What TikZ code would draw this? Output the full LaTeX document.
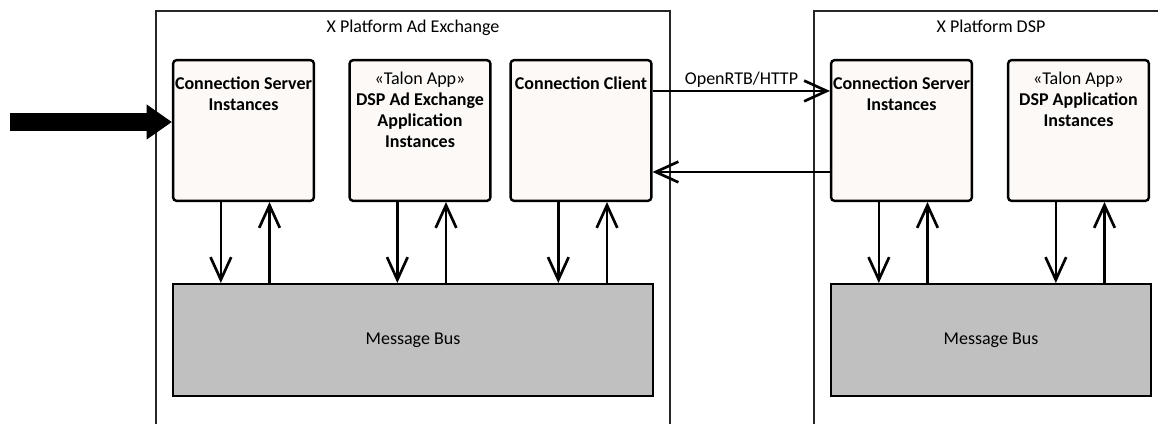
\documentclass[tikz,border=0pt]{standalone}
\usepackage{fontspec}
\setmainfont{Carlito}
\usepackage{xcolor}
\usetikzlibrary{arrows.meta,positioning,calc}

\definecolor{compfill}{HTML}{FCF9F6}
\definecolor{busfill}{HTML}{C0C0C0}

\tikzset{
  frame/.style={draw=black!85,line width=0.9pt},
  comp/.style={draw,line width=1.8pt,rounded corners=2.5pt,fill=compfill,
    minimum width=105.5pt,minimum height=105.5pt},
  bus/.style={draw,line width=1.8pt,fill=busfill,minimum height=83.7pt},
  lbl/.style={align=center,inner sep=0pt,anchor=base},
  flow/.style={line width=2pt,-{Straight Barb[length=17pt,width=15.5pt]}},
  bigarrow/.style={line width=14pt,-{Triangle[length=19pt,width=25pt]}}
}

\begin{document}
\begin{tikzpicture}[x=0.75pt,y=-0.75pt,font=\fontsize{13.5pt}{15.75pt}\selectfont]
            \useasboundingbox (0,0) rectangle (1158,424);
            \clip (0,0) rectangle (1158,424);

            % Platforms
            \draw[frame] (156,11) rectangle (670,440);
            \draw[frame] (814,11) rectangle (1168,440);
            \node[lbl] (adxTitle) at (413,33) {X Platform Ad Exchange};
            \node[lbl] (dspTitle) at (991,33) {X Platform DSP};

            % Components
            \node[comp] (csL) at (243.5,130.5) {};
            \node[comp] (adx) at (420,130.5) {};
            \node[comp] (cc) at (581,130.5) {};
            \node[comp] (csR) at (901.5,130.5) {};
            \node[comp] (app) at (1078.5,130.5) {};

            % (base is the last line of each label)
            \node[lbl] (csLText) at ([yshift=-39pt]csL.north) {\textbf{Connection Server}\\\textbf{Instances}};
            \node[lbl] (adxText) at ([yshift=-66.75pt]adx.north) {«Talon App»\\\textbf{DSP Ad Exchange}\\\textbf{Application}\\\textbf{Instances}};
            \node[lbl] (ccText) at ([yshift=-23.25pt]cc.north) {\textbf{Connection Client}};
            \node[lbl] (csRText) at ([yshift=-39pt]csR.north) {\textbf{Connection Server}\\\textbf{Instances}};
            \node[lbl] (appText) at ([yshift=-51pt]app.north) {«Talon App»\\\textbf{DSP Application}\\\textbf{Instances}};

            % Message buses
            \node[bus,minimum width=359.7pt] (busL) at (413,340) {Message Bus};
            \node[bus,minimum width=239.7pt] (busR) at (991,340) {Message Bus};

            % Bus traffic
            \foreach \c/\b in {csL/busL,adx/busL,cc/busL,csR/busR,app/busR} {
                \draw[flow] ([xshift=-17pt]\c.south) -- ([xshift=-17pt]\c.south |- \b.north);
                \draw[flow] ([xshift=19.5pt]\c.south |- \b.north) -- ([xshift=19.5pt]\c.south);
            }

            % Incoming requests
            \coordinate (req) at (10,122);
            \draw[bigarrow] (req) -- (req -| csL.west);

            % Bid request and response
            \draw[flow] ($(cc.north east)+(0,32)$) -- ($(csR.north west)+(0,32)$);
            \node[lbl] (rtbLabel) at (741.5,85) {OpenRTB/HTTP};
            \draw[flow] ($(csR.north west)+(0,113)$) -- ($(cc.north east)+(0,113)$);
\end{tikzpicture}
\end{document}
